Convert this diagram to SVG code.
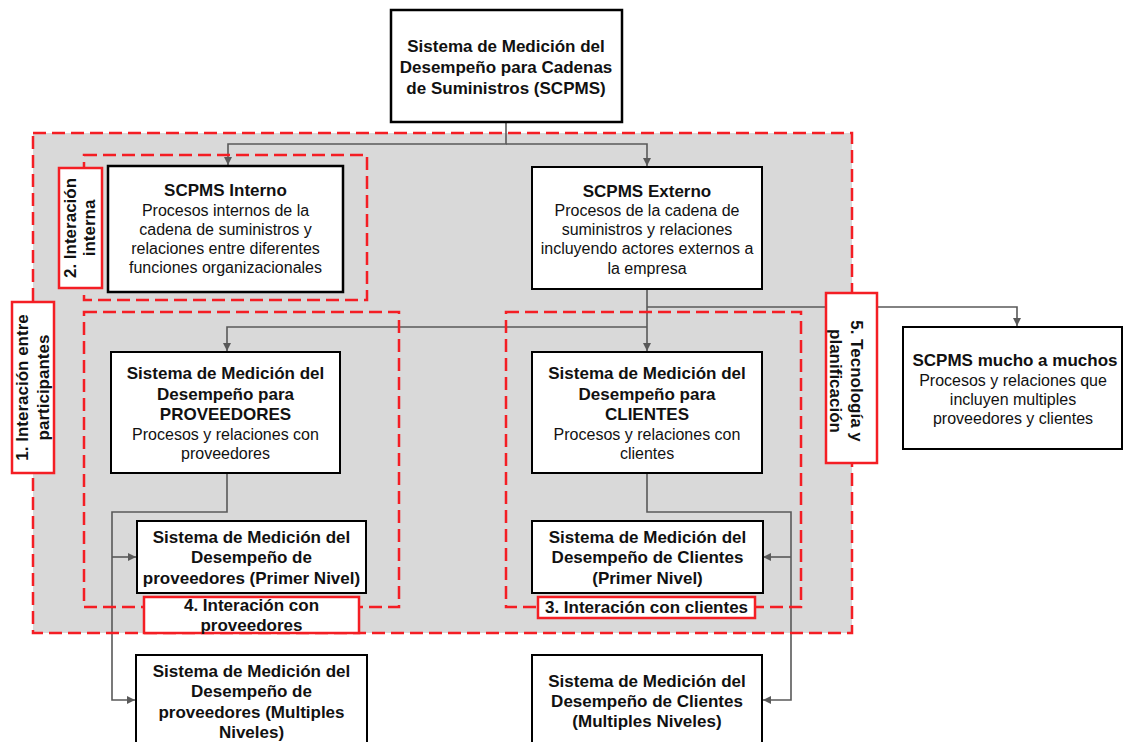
<svg xmlns="http://www.w3.org/2000/svg" width="1124" height="742" viewBox="0 0 1124 742">
<defs>
<marker id="ah" viewBox="0 0 10 10" refX="10" refY="5" markerWidth="8" markerHeight="8" markerUnits="userSpaceOnUse" orient="auto">
<path d="M0,0 L10,5 L0,10 z" fill="#595959"/>
</marker>
<style>
.bx{fill:#fff;stroke:#000;stroke-width:2}
.dash{fill:none;stroke:#f41e24;stroke-width:2.5;stroke-dasharray:13 6}
.lab{fill:#fff;stroke:#f41e24;stroke-width:2.5}
.con{fill:none;stroke:#595959;stroke-width:1.6}
.b{font-family:"Liberation Sans",Arial,sans-serif;font-weight:bold;font-size:17px;fill:#111;text-anchor:middle}
.n{font-family:"Liberation Sans",Arial,sans-serif;font-size:16px;fill:#111;text-anchor:middle}
</style>
</defs>
<rect x="33" y="133" width="819" height="500" fill="#d9d9d9"/>

<g id="connectors">
<path class="con" d="M506 122 V144 H228 V165" marker-end="url(#ah)"/>
<path class="con" d="M506 144 H647 V166" marker-end="url(#ah)"/>
<path class="con" d="M647 289 V351" marker-end="url(#ah)"/>
<path class="con" d="M647 327 H227 V351" marker-end="url(#ah)"/>
<path class="con" d="M647 307 H1017 V326" marker-end="url(#ah)"/>
<path class="con" d="M227 473 V512 H112 V700 H135" marker-end="url(#ah)"/>
<path class="con" d="M112 557 H136" marker-end="url(#ah)"/>
<path class="con" d="M647 473 V512 H791 V700 H763" marker-end="url(#ah)"/>
<path class="con" d="M791 557 H763" marker-end="url(#ah)"/>
</g>

<g id="regions">
<rect class="dash" x="33" y="133" width="819" height="500"/>
<rect class="dash" x="84" y="155" width="283" height="145"/>
<rect class="dash" x="84" y="312" width="315" height="295"/>
<rect class="dash" x="506" y="312" width="295" height="295"/>
</g>

<g id="top">
<rect class="bx" x="391" y="10" width="231" height="112" style="stroke-width:2.5"/>
<text class="b" x="506" y="52">Sistema de Medición del</text>
<text class="b" x="506" y="73">Desempeño para Cadenas</text>
<text class="b" x="506" y="94">de Suministros (SCPMS)</text>
</g>

<g id="interno">
<rect class="bx" x="108" y="166" width="235" height="126" style="stroke-width:2.5"/>
<text class="b" x="225.5" y="196">SCPMS Interno</text>
<text class="n" x="225.5" y="215.5">Procesos internos de la</text>
<text class="n" x="225.5" y="234.5">cadena de suministros y</text>
<text class="n" x="225.5" y="253.5">relaciones entre diferentes</text>
<text class="n" x="225.5" y="272.5">funciones organizacionales</text>
</g>

<g id="externo">
<rect class="bx" x="532" y="167" width="230" height="122"/>
<text class="b" x="647" y="197">SCPMS Externo</text>
<text class="n" x="647" y="215.5">Procesos de la cadena de</text>
<text class="n" x="647" y="234.5">suministros y relaciones</text>
<text class="n" x="647" y="254">incluyendo actores externos a</text>
<text class="n" x="647" y="273.5">la empresa</text>
</g>

<g id="muchos">
<rect class="bx" x="903" y="327" width="219" height="122"/>
<text class="b" x="1015" y="366">SCPMS mucho a muchos</text>
<text class="n" x="1013" y="385.5">Procesos y relaciones que</text>
<text class="n" x="1013" y="404.5">incluyen multiples</text>
<text class="n" x="1013" y="423.5">proveedores y clientes</text>
</g>

<g id="proveedores">
<rect class="bx" x="111" y="352" width="229" height="121"/>
<text class="b" x="225.5" y="379">Sistema de Medición del</text>
<text class="b" x="225.5" y="400">Desempeño para</text>
<text class="b" x="225.5" y="420">PROVEEDORES</text>
<text class="n" x="225.5" y="439.5">Procesos y relaciones con</text>
<text class="n" x="225.5" y="458.5">proveedores</text>
</g>

<g id="clientes">
<rect class="bx" x="532" y="352" width="230" height="121"/>
<text class="b" x="647" y="379">Sistema de Medición del</text>
<text class="b" x="647" y="400">Desempeño para</text>
<text class="b" x="647" y="420">CLIENTES</text>
<text class="n" x="647" y="439.5">Procesos y relaciones con</text>
<text class="n" x="647" y="458.5">clientes</text>
</g>

<g id="prov1">
<rect class="bx" x="137" y="521" width="229" height="72"/>
<text class="b" x="251.5" y="543">Sistema de Medición del</text>
<text class="b" x="251.5" y="563">Desempeño de</text>
<text class="b" x="251.5" y="584">proveedores (Primer Nivel)</text>
</g>

<g id="cli1">
<rect class="bx" x="532" y="521" width="231" height="72"/>
<text class="b" x="647.5" y="543">Sistema de Medición del</text>
<text class="b" x="647.5" y="563">Desempeño de Clientes</text>
<text class="b" x="647.5" y="584">(Primer Nivel)</text>
</g>

<g id="provN">
<rect class="bx" x="136" y="655" width="231" height="110"/>
<text class="b" x="251.5" y="677">Sistema de Medición del</text>
<text class="b" x="251.5" y="697">Desempeño de</text>
<text class="b" x="251.5" y="718">proveedores (Multiples</text>
<text class="b" x="251.5" y="738">Niveles)</text>
</g>

<g id="cliN">
<rect class="bx" x="532" y="655" width="230" height="110"/>
<text class="b" x="647" y="687">Sistema de Medición del</text>
<text class="b" x="647" y="707">Desempeño de Clientes</text>
<text class="b" x="647" y="727">(Multiples Niveles)</text>
</g>

<g id="label1">
<rect class="lab" x="12" y="302" width="42" height="171"/>
<text class="b" transform="translate(28,387.5) rotate(-90)" x="0" y="0">1. Interación entre</text>
<text class="b" transform="translate(49,387.5) rotate(-90)" x="0" y="0">participantes</text>
</g>

<g id="label2">
<rect class="lab" x="59" y="168" width="43" height="120"/>
<text class="b" transform="translate(76,228) rotate(-90)" x="0" y="0">2. Interación</text>
<text class="b" transform="translate(95,228) rotate(-90)" x="0" y="0">interna</text>
</g>

<g id="label3">
<rect class="lab" x="538" y="597" width="217" height="21"/>
<text class="b" x="646.5" y="613">3. Interación con clientes</text>
</g>

<g id="label4">
<rect class="lab" x="144" y="597" width="215" height="36"/>
<text class="b" x="251.5" y="611">4. Interación con</text>
<text class="b" x="251.5" y="631">proveedores</text>
</g>

<g id="label5">
<rect class="lab" x="826" y="293" width="51" height="170"/>
<text class="b" transform="translate(851,381) rotate(90)" x="0" y="0">5. Tecnología y</text>
<text class="b" transform="translate(830,381) rotate(90)" x="0" y="0">planificación</text>
</g>
</svg>
